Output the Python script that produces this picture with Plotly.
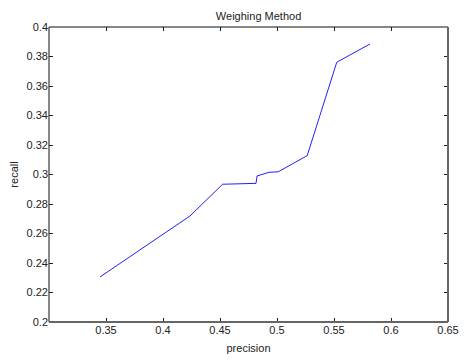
import plotly.graph_objects as go

precision = [0.3447, 0.4237, 0.4523, 0.4816, 0.4825, 0.4930, 0.5010, 0.5265, 0.5524, 0.5816]
recall = [0.2305, 0.2719, 0.2934, 0.2940, 0.2990, 0.3015, 0.3018, 0.3128, 0.3761, 0.3885]

x_ticks = [0.35, 0.4, 0.45, 0.5, 0.55, 0.6, 0.65]
x_labels = ["0.35", "0.4", "0.45", "0.5", "0.55", "0.6", "0.65"]
y_ticks = [0.2, 0.22, 0.24, 0.26, 0.28, 0.3, 0.32, 0.34, 0.36, 0.38, 0.4]
y_labels = ["0.2", "0.22", "0.24", "0.26", "0.28", "0.3", "0.32", "0.34", "0.36", "0.38", "0.4"]

fig = go.Figure()
fig.add_trace(go.Scatter(x=precision, y=recall, mode="lines",
                         line=dict(color="#2020ff", width=1), showlegend=False))

font = dict(family="Liberation Sans, Arial, sans-serif", size=11, color="#222")
fig.update_layout(
    width=464, height=354,
    margin=dict(l=41, r=24, t=19, b=40),
    paper_bgcolor="white", plot_bgcolor="white",
    font=font,
    title=dict(text="Weighing Method", x=0.54, xanchor="center", y=0.988, yanchor="top",
               font=dict(family="Liberation Sans, Arial, sans-serif", size=11, color="#222")),
    xaxis=dict(range=[0.3, 0.65], tickvals=x_ticks, ticktext=x_labels,
               ticks="inside", ticklen=4, tickcolor="#222", mirror="ticks",
               showgrid=False, zeroline=False, showline=False, automargin=False,
               title=dict(text="precision", standoff=9, font=font)),
    yaxis=dict(range=[0.2, 0.4], tickvals=y_ticks, ticktext=y_labels,
               ticks="inside", ticklen=4, tickcolor="#222", mirror="ticks",
               showgrid=False, zeroline=False, showline=False, automargin=False,
               title=dict(text="recall", standoff=17, font=font)),
    shapes=[
        dict(type="line", xref="paper", yref="paper", x0=0, x1=1, y0=1, y1=1, line=dict(color="#111", width=1)),
        dict(type="line", xref="paper", yref="paper", x0=0, x1=0, y0=0, y1=1, line=dict(color="#111", width=1)),
        dict(type="line", xref="paper", yref="paper", x0=0, x1=1, y0=0, y1=0, line=dict(color="#666", width=2)),
        dict(type="line", xref="paper", yref="paper", x0=1, x1=1, y0=0, y1=1, line=dict(color="#666", width=2)),
    ],
)

fig.write_html("out.html")
